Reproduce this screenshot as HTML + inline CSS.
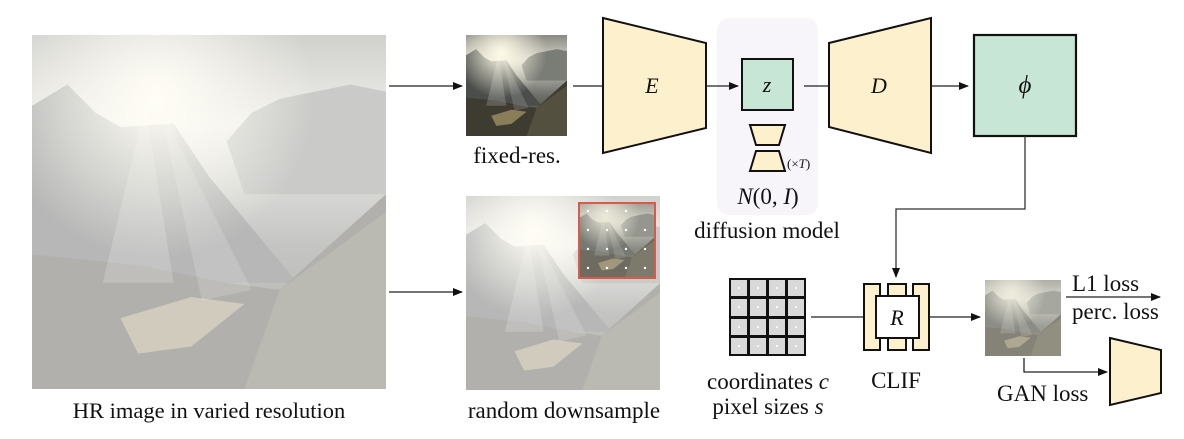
<!DOCTYPE html>
<html><head><meta charset="utf-8"><style>
body{margin:0;background:#fff;}
svg text{font-family:"Liberation Serif",serif;fill:#111;}
</style></head><body>
<svg width="1184" height="434" viewBox="0 0 1184 434" xmlns="http://www.w3.org/2000/svg">
<defs>
<radialGradient id="sun" cx="0.35" cy="0.18" r="0.45"><stop offset="0" stop-color="#fffbe8"/><stop offset="1" stop-color="#fffbe8" stop-opacity="0"/></radialGradient>
<linearGradient id="sky" x1="0" y1="0" x2="0" y2="1"><stop offset="0" stop-color="#8a8a82"/><stop offset="0.25" stop-color="#d8d6cc"/><stop offset="0.6" stop-color="#6c6e68"/><stop offset="1" stop-color="#3a3a30"/></linearGradient>
<symbol id="scene" viewBox="0 0 100 100" preserveAspectRatio="none">
<rect width="100" height="100" fill="url(#sky)"/>
<polygon points="0,20 10,14 18,22 25,26 40,25 50,40 75,70 0,70" fill="#4a4d4a"/>
<polygon points="55,30 62,22 70,18 80,16 90,14 100,16 100,45 60,45" fill="#7a7c76"/>
<polygon points="0,62 30,65 55,70 70,72 100,45 100,100 0,100" fill="#3e3b30"/>
<polygon points="25,80 45,74 60,76 45,88 30,90" fill="#8a7d5a"/>
<polygon points="70,72 100,50 100,100 60,100" fill="#54503f"/>
<polygon points="32,20 20,70 40,70" fill="#fff" opacity="0.18"/>
<polygon points="36,20 48,75 62,72" fill="#fff" opacity="0.15"/>
<rect width="100" height="100" fill="url(#sun)"/>
</symbol>
<marker id="ah" markerWidth="10" markerHeight="8" refX="9" refY="4" orient="auto" markerUnits="userSpaceOnUse"><path d="M0,0 L10,4 L0,8 z" fill="#111"/></marker>
</defs>

<use href="#scene" x="32" y="35" width="354" height="354"/>
<rect x="32" y="35" width="354" height="354" fill="#fff" opacity="0.6"/>
<text x="209" y="418" font-size="22.5" text-anchor="middle">HR image in varied resolution</text>

<line x1="389" y1="86" x2="462" y2="86" stroke="#222" stroke-width="1.3" marker-end="url(#ah)"/>
<line x1="389" y1="292" x2="462" y2="292" stroke="#222" stroke-width="1.3" marker-end="url(#ah)"/>

<use href="#scene" x="466" y="35" width="101" height="101"/>
<text x="517" y="163" font-size="23" text-anchor="middle">fixed-res.</text>

<use href="#scene" x="466" y="196" width="194" height="194"/>
<rect x="466" y="196" width="194" height="194" fill="#fff" opacity="0.6"/>
<use href="#scene" x="579" y="203" width="76" height="75"/>
<rect x="579" y="203" width="76" height="75" fill="#c8c8bc" opacity="0.35"/>
<rect x="579" y="203" width="76" height="75" fill="none" stroke="#d9594c" stroke-width="2"/>
<g fill="#fff">
<circle cx="588" cy="211" r="1.2"/><circle cx="607" cy="211" r="1.2"/><circle cx="626" cy="211" r="1.2"/>
<circle cx="588" cy="230" r="1.2"/><circle cx="607" cy="230" r="1.2"/><circle cx="626" cy="230" r="1.2"/><circle cx="645" cy="230" r="1.2"/>
<circle cx="588" cy="249" r="1.2"/><circle cx="607" cy="249" r="1.2"/><circle cx="626" cy="249" r="1.2"/><circle cx="645" cy="249" r="1.2"/>
<circle cx="588" cy="268" r="1.2"/><circle cx="607" cy="268" r="1.2"/><circle cx="626" cy="268" r="1.2"/><circle cx="645" cy="268" r="1.2"/>
</g>
<text x="564" y="418" font-size="23" text-anchor="middle">random downsample</text>

<line x1="573" y1="86" x2="603" y2="86" stroke="#222" stroke-width="1.3"/>
<polygon points="603,18 706,43 706,128 603,153" fill="#fdf0cc" stroke="#111" stroke-width="2"/>
<text x="652" y="93" font-size="22" font-style="italic" text-anchor="middle">E</text>

<rect x="717" y="18" width="101" height="197" rx="12" fill="#f7f5fa"/>
<line x1="706" y1="86" x2="738" y2="86" stroke="#222" stroke-width="1.3" marker-end="url(#ah)"/>
<rect x="742" y="59" width="51" height="51" fill="#c8e6d6" stroke="#111" stroke-width="2"/>
<text x="767" y="92" font-size="22" font-style="italic" text-anchor="middle">z</text>
<polygon points="750,125 785,125 779,145 756,145" fill="#fdf0cc" stroke="#111" stroke-width="2"/>
<polygon points="756,151 779,151 785,171 750,171" fill="#fdf0cc" stroke="#111" stroke-width="2"/>
<text x="787" y="168" font-size="13">(×<tspan font-style="italic">T</tspan>)</text>
<text x="768" y="204" font-size="23" text-anchor="middle"><tspan font-style="italic">N</tspan>(0, <tspan font-style="italic">I</tspan>)</text>
<text x="767" y="238" font-size="23" text-anchor="middle">diffusion model</text>

<line x1="804" y1="86" x2="829" y2="86" stroke="#222" stroke-width="1.3"/>
<polygon points="829,43 931,18 931,153 829,127" fill="#fdf0cc" stroke="#111" stroke-width="2"/>
<text x="879" y="93" font-size="22" font-style="italic" text-anchor="middle">D</text>
<line x1="931" y1="86" x2="968" y2="86" stroke="#222" stroke-width="1.3" marker-end="url(#ah)"/>

<rect x="974" y="35" width="102" height="101" fill="#c8e6d6" stroke="#111" stroke-width="2.2"/>
<text x="1025" y="93" font-size="25" font-style="italic" text-anchor="middle">ϕ</text>
<polyline points="1025,136 1025,209 896,209 896,277" fill="none" stroke="#333" stroke-width="1.3" marker-end="url(#ah)"/>

<rect x="729" y="278" width="77" height="78" fill="#111"/>
<g fill="#d9d9d9">
<rect x="731" y="280" width="16" height="16"/><rect x="750" y="280" width="16" height="16"/><rect x="769" y="280" width="16" height="16"/><rect x="788" y="280" width="16" height="16"/>
<rect x="731" y="299" width="16" height="17"/><rect x="750" y="299" width="16" height="17"/><rect x="769" y="299" width="16" height="17"/><rect x="788" y="299" width="16" height="17"/>
<rect x="731" y="319" width="16" height="16"/><rect x="750" y="319" width="16" height="16"/><rect x="769" y="319" width="16" height="16"/><rect x="788" y="319" width="16" height="16"/>
<rect x="731" y="338" width="16" height="16"/><rect x="750" y="338" width="16" height="16"/><rect x="769" y="338" width="16" height="16"/><rect x="788" y="338" width="16" height="16"/>
</g>
<g fill="#fff">
<circle cx="739" cy="288" r="1"/><circle cx="758" cy="288" r="1"/><circle cx="777" cy="288" r="1"/><circle cx="796" cy="288" r="1"/>
<circle cx="739" cy="307" r="1"/><circle cx="758" cy="307" r="1"/><circle cx="777" cy="307" r="1"/><circle cx="796" cy="307" r="1"/>
<circle cx="739" cy="327" r="1"/><circle cx="758" cy="327" r="1"/><circle cx="777" cy="327" r="1"/><circle cx="796" cy="327" r="1"/>
<circle cx="739" cy="346" r="1"/><circle cx="758" cy="346" r="1"/><circle cx="777" cy="346" r="1"/><circle cx="796" cy="346" r="1"/>
</g>
<text x="768" y="389" font-size="23" text-anchor="middle">coordinates <tspan font-style="italic">c</tspan></text>
<text x="768" y="414" font-size="23" text-anchor="middle">pixel sizes <tspan font-style="italic">s</tspan></text>

<line x1="811" y1="317" x2="864" y2="317" stroke="#222" stroke-width="1.3"/>
<rect x="864" y="284" width="16" height="66" fill="#fdf0cc" stroke="#111" stroke-width="2"/>
<rect x="888" y="284" width="18" height="66" fill="#fdf0cc" stroke="#111" stroke-width="2"/>
<rect x="913" y="284" width="16" height="66" fill="#fdf0cc" stroke="#111" stroke-width="2"/>
<rect x="876" y="296" width="43" height="42" fill="#fff" stroke="#111" stroke-width="2"/>
<text x="897" y="325" font-size="22" font-style="italic" text-anchor="middle">R</text>
<text x="896" y="388" font-size="23" text-anchor="middle">CLIF</text>
<line x1="929" y1="317" x2="980" y2="317" stroke="#222" stroke-width="1.3" marker-end="url(#ah)"/>

<use href="#scene" x="985" y="280" width="76" height="76"/>
<rect x="985" y="280" width="76" height="76" fill="#dcdcd0" opacity="0.45"/>
<line x1="1066" y1="297" x2="1160" y2="297" stroke="#222" stroke-width="1.3" marker-end="url(#ah)"/>
<text x="1072" y="291" font-size="23">L1 loss</text>
<text x="1072" y="319" font-size="23">perc. loss</text>
<polyline points="1024,358 1024,372 1107,372" fill="none" stroke="#222" stroke-width="1.3" marker-end="url(#ah)"/>
<polygon points="1110,338 1161,350 1161,393 1110,405" fill="#fdf0cc" stroke="#111" stroke-width="2"/>
<text x="997" y="401" font-size="23">GAN loss</text>
</svg>
</body></html>
